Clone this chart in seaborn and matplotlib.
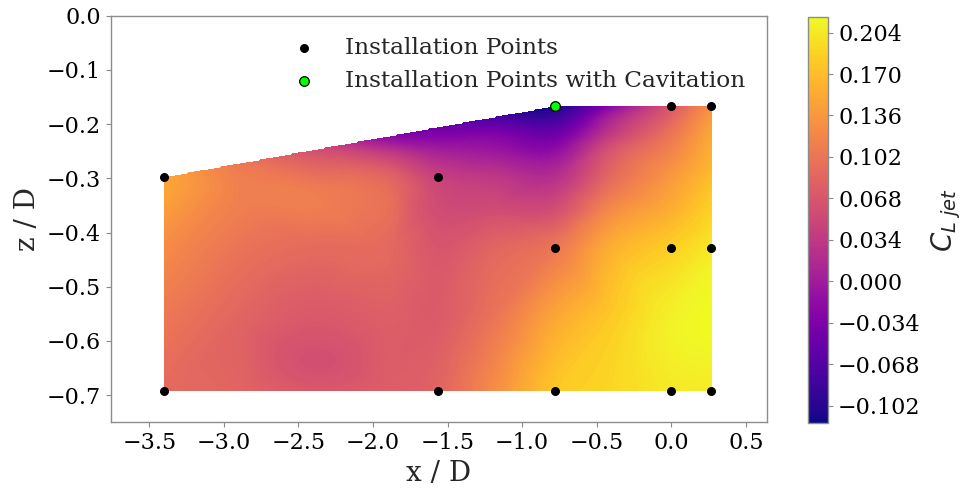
import numpy as np
import matplotlib
matplotlib.use("Agg")
import matplotlib.pyplot as plt
import matplotlib.tri as mtri
import seaborn as sns

# Installation points (x/D, z/D)
inst_x = [-3.40, -1.565, -0.78, 0.0, 0.269, -0.78, 0.0, 0.269,
          -3.40, -1.565, -0.78, 0.0, 0.269]
inst_z = [-0.298, -0.298, -0.167, -0.167, -0.167, -0.429, -0.429, -0.429,
          -0.692, -0.692, -0.692, -0.692, -0.692]
cavitating = [False, False, True, False, False, False, False, False,
              False, False, False, False, False]

# Sampled jet lift coefficient over the installation region
field_x = [-3.40, -3.40, -3.40, -3.40,
           -2.9, -2.9, -2.9, -2.9, -2.9,
           -2.4, -2.4, -2.4, -2.4, -2.4, -2.4,
           -1.9, -1.9, -1.9, -1.9, -1.9, -1.9,
           -1.565, -1.565, -1.565, -1.565, -1.565, -1.565, -1.565,
           -1.2, -1.2, -1.2, -1.2, -1.2, -1.2, -1.2, -1.2,
           -0.78, -0.78, -0.78, -0.78, -0.78, -0.78, -0.78, -0.78, -0.78,
           -0.4, -0.4, -0.4, -0.4, -0.4, -0.4, -0.4, -0.4, -0.4,
           0.0, 0.0, 0.0, 0.0, 0.0, 0.0, 0.0,
           0.269, 0.269, 0.269, 0.269, 0.269, 0.269]
field_z = [-0.692, -0.56, -0.43, -0.298,
           -0.692, -0.56, -0.43, -0.35, -0.273,
           -0.692, -0.64, -0.56, -0.43, -0.33, -0.248,
           -0.692, -0.56, -0.43, -0.30, -0.26, -0.223,
           -0.692, -0.56, -0.43, -0.36, -0.298, -0.25, -0.206,
           -0.692, -0.56, -0.43, -0.36, -0.30, -0.25, -0.217, -0.188,
           -0.692, -0.56, -0.43, -0.36, -0.30, -0.25, -0.217, -0.19, -0.167,
           -0.692, -0.56, -0.43, -0.36, -0.30, -0.25, -0.217, -0.19, -0.167,
           -0.692, -0.56, -0.43, -0.36, -0.30, -0.217, -0.167,
           -0.692, -0.56, -0.43, -0.30, -0.217, -0.167]
field_c = [0.090, 0.104, 0.124, 0.150,
           0.084, 0.084, 0.100, 0.112, 0.105,
           0.070, 0.060, 0.070, 0.090, 0.110, 0.060,
           0.077, 0.077, 0.088, 0.085, 0.045, -0.020,
           0.084, 0.074, 0.068, 0.057, 0.044, 0.004, -0.049,
           0.124, 0.100, 0.084, 0.057, 0.034, -0.005, -0.033, -0.076,
           0.177, 0.150, 0.104, 0.060, 0.024, -0.016, -0.049, -0.083, -0.112,
           0.190, 0.180, 0.157, 0.124, 0.090, 0.067, 0.034, 0.010, -0.023,
           0.204, 0.210, 0.184, 0.157, 0.137, 0.100, 0.067,
           0.207, 0.217, 0.204, 0.170, 0.150, 0.130]

c_min, c_max = -0.116, 0.217
cbar_ticks = [-0.102, -0.068, -0.034, 0.000, 0.034, 0.068, 0.102, 0.136, 0.170, 0.204]

sns.set_theme(style="white")
plt.rcParams.update({
    "font.family": ["DejaVu Serif"],
    "mathtext.fontset": "dejavusans",
    "axes.edgecolor": "0.55",
    "axes.linewidth": 1.0,
    "xtick.bottom": True,
    "ytick.left": True,
    "xtick.color": "0.55",
    "ytick.color": "0.55",
    "xtick.labelcolor": "black",
    "ytick.labelcolor": "black",
    "xtick.major.size": 3.5,
    "ytick.major.size": 3.5,
    "xtick.major.width": 0.8,
    "ytick.major.width": 0.8,
})

fig = plt.figure(figsize=(9.61, 4.88), dpi=100)
ax = fig.add_axes([0.115, 0.1346, 0.6828, 0.8332])
cax = fig.add_axes([0.8405, 0.1334, 0.0214, 0.8324])

# Interpolate the sampled field onto a regular grid (masked outside the hull)
tri = mtri.Triangulation(field_x, field_z)
interp = mtri.CubicTriInterpolator(tri, field_c, kind="geom")
gx = np.linspace(min(field_x), max(field_x), 520)
gz = np.linspace(min(field_z), max(field_z), 240)
GX, GZ = np.meshgrid(gx, gz)
GC = interp(GX, GZ)
GC = np.ma.clip(GC, c_min, c_max)

levels = np.linspace(c_min, c_max, 200)
cs = ax.contourf(GX, GZ, GC, levels=levels, cmap="plasma", antialiased=False)

pts_x = [x for x, c in zip(inst_x, cavitating) if not c]
pts_z = [z for z, c in zip(inst_z, cavitating) if not c]
cav_x = [x for x, c in zip(inst_x, cavitating) if c]
cav_z = [z for z, c in zip(inst_z, cavitating) if c]

sns.scatterplot(x=pts_x, y=pts_z, ax=ax, color="black", s=32,
                edgecolor="black", linewidth=0.8, label="Installation Points", zorder=3)
sns.scatterplot(x=cav_x, y=cav_z, ax=ax, color="#00ff00", s=48,
                edgecolor="black", linewidth=0.9,
                label="Installation Points with Cavitation", zorder=4)

ax.set_xlim(-3.76, 0.64)
ax.set_ylim(-0.75, 0.0)
ax.set_xticks(np.arange(-3.5, 0.51, 0.5))
ax.set_yticks(np.arange(-0.7, 0.01, 0.1))
ax.tick_params(labelsize=16)
ax.set_xlabel("x / D", fontsize=20)
ax.set_ylabel("z / D", fontsize=20)
ax.legend(loc="upper right", frameon=False, fontsize=16.75)

cbar = fig.colorbar(cs, cax=cax, ticks=cbar_ticks)
cbar.ax.set_yticklabels([f"{t:.3f}".replace("-", "\u2212") for t in cbar_ticks])
cbar.ax.tick_params(labelsize=16, color="0.55")
cbar.outline.set_edgecolor("0.55")
cbar.set_label(r"$C_{L\ jet}$", fontsize=20, labelpad=6)

fig.savefig("out.png", dpi=100)
